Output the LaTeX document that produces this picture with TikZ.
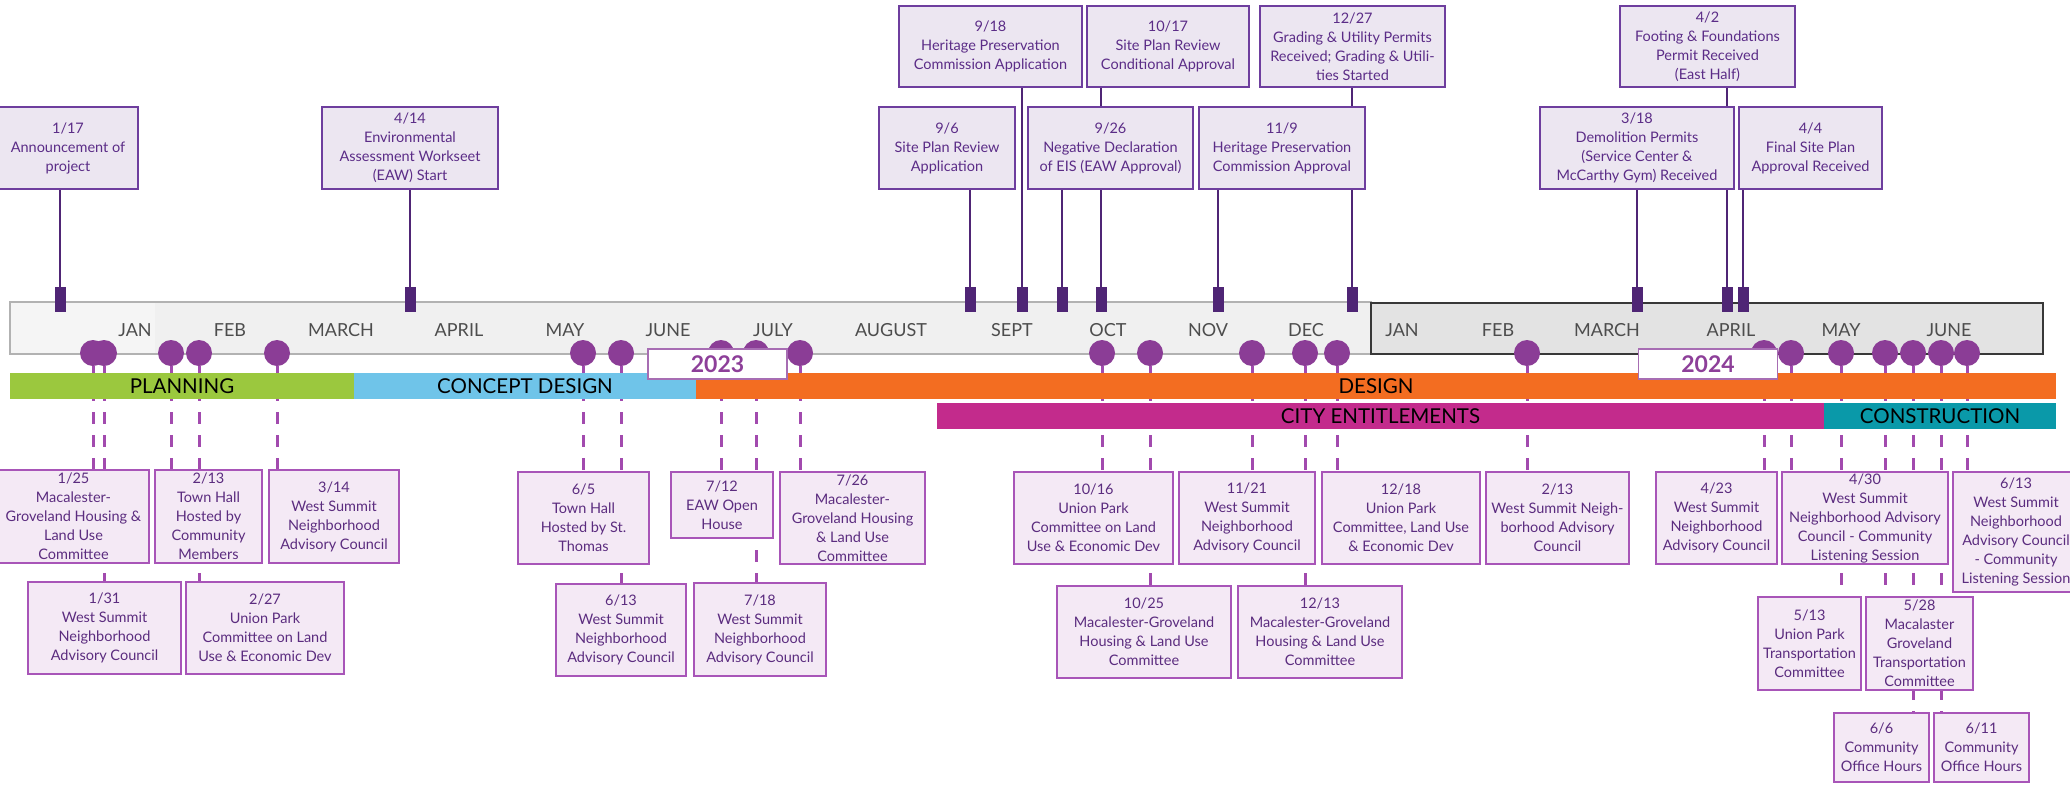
\documentclass[tikz,border=0pt]{standalone}
\usepackage{fontspec}
\setmainfont{Lato}
\usetikzlibrary{positioning}
\definecolor{topline}{HTML}{6E3E9E}
\definecolor{topfill}{HTML}{ECE6F1}
\definecolor{toptext}{HTML}{5B2C87}
\definecolor{lowline}{HTML}{A855B8}
\definecolor{lowfill}{HTML}{F4E9F5}
\definecolor{lowtext}{HTML}{5B2C7F}
\definecolor{stemcol}{HTML}{4F2575}
\definecolor{dotcol}{HTML}{8B3D96}
\definecolor{dashcol}{HTML}{A24AAE}
\definecolor{yearline}{HTML}{A76DB3}
\definecolor{yeartext}{HTML}{8D3F99}
\definecolor{monthcol}{HTML}{4D4D4D}
\definecolor{planning}{HTML}{9BC83E}
\definecolor{concept}{HTML}{6FC4E9}
\definecolor{design}{HTML}{F36D21}
\definecolor{entitle}{HTML}{C32B8C}
\definecolor{construct}{HTML}{0A99A9}
\pgfdeclarelayer{back}
\pgfsetlayers{back,main}

\begin{document}
\begin{tikzpicture}[x=1pt, y=-1pt,
  topbox/.style={draw=topline, fill=topfill, line width=1.6pt, text=toptext,
    align=center, inner sep=0pt, font=\fontsize{14.5}{19}\selectfont},
  lowbox/.style={draw=lowline, fill=lowfill, line width=1.6pt, text=lowtext,
    align=center, inner sep=0pt, font=\fontsize{14.5}{19}\selectfont},
  flag/.style={fill=stemcol, minimum width=11pt, minimum height=25pt, inner sep=0pt},
  evdot/.style={circle, fill=dotcol, minimum size=26pt, inner sep=0pt},
  stemline/.style={draw=stemcol, line width=2.6pt},
  dashlink/.style={draw=dashcol, line width=3pt, dash pattern=on 12pt off 11pt},
  monthlbl/.style={text=monthcol, inner sep=0pt, font=\fontsize{18}{20}\selectfont},
  phase/.style={minimum height=26pt, inner sep=0pt, text=black, font=\fontsize{20.5}{22}\selectfont},
  yearbox/.style={draw=yearline, fill=white, line width=1.6pt, minimum width=139pt,
    minimum height=30pt, inner sep=0pt, text=yeartext, font=\fontsize{23}{24}\bfseries}]
  \useasboundingbox (0,0) rectangle (2070,785);
  \begin{pgfonlayer}{back}
    \fill[white] (0,0) rectangle (2070,785);
    \filldraw[fill=black!6, draw=black!30, line width=1.6pt] (10,302) rectangle (1371,354);
    \fill[black!4] (11,303) rectangle (155,353);
    \filldraw[fill=black!11, draw=black!78, line width=1.6pt] (1371,303) rectangle (2043,354);
  \end{pgfonlayer}

  \node[monthlbl] (jan23) at (135,330) {JAN};
  \node[monthlbl] (feb23) at (230,330) {FEB};
  \node[monthlbl] (mar23) at (341,330) {MARCH};
  \node[monthlbl] (apr23) at (459,330) {APRIL};
  \node[monthlbl] (may23) at (565,330) {MAY};
  \node[monthlbl] (jun23) at (668,330) {JUNE};
  \node[monthlbl] (jul23) at (773,330) {JULY};
  \node[monthlbl] (aug23) at (891,330) {AUGUST};
  \node[monthlbl] (sep23) at (1012,330) {SEPT};
  \node[monthlbl] (oct23) at (1108,330) {OCT};
  \node[monthlbl] (nov23) at (1208,330) {NOV};
  \node[monthlbl] (dec23) at (1306,330) {DEC};
  \node[monthlbl] (jan24) at (1402,330) {JAN};
  \node[monthlbl] (feb24) at (1498,330) {FEB};
  \node[monthlbl] (mar24) at (1607,330) {MARCH};
  \node[monthlbl] (apr24) at (1731,330) {APRIL};
  \node[monthlbl] (may24) at (1841,330) {MAY};
  \node[monthlbl] (jun24) at (1949,330) {JUNE};

  \node[phase, fill=planning, minimum width=344pt] (plan) at (182,386) {PLANNING};
  \node[phase, fill=concept, minimum width=342pt] (concept) at (525,386) {CONCEPT DESIGN};
  \node[phase, fill=design, minimum width=1360pt] (design) at (1376,386) {DESIGN};
  \node[phase, fill=entitle, minimum width=887pt] (entitle) at (1380.5,416) {CITY ENTITLEMENTS};
  \node[phase, fill=construct, minimum width=232pt] (construct) at (1940,416) {CONSTRUCTION};

  \node[flag] (m0117) at (60,299.5) {};
  \node[flag] (m0414) at (410,299.5) {};
  \node[flag] (m0906) at (970,299.5) {};
  \node[flag] (m0918) at (1022,299.5) {};
  \node[flag] (m0926) at (1062,299.5) {};
  \node[flag] (m1017) at (1101,299.5) {};
  \node[flag] (m1109) at (1218,299.5) {};
  \node[flag] (m1227) at (1352,299.5) {};
  \node[flag] (m0318) at (1637,299.5) {};
  \node[flag] (m0402) at (1727,299.5) {};
  \node[flag] (m0404) at (1743,299.5) {};

  \node[topbox, minimum width=140pt, minimum height=82pt] (b0117) at (68,148) {1/17\\Announcement of\\project};
  \node[topbox, minimum width=176pt, minimum height=82pt] (b0414) at (410,148) {4/14\\Environmental\\Assessment Workseet\\(EAW) Start};
  \node[topbox, minimum width=136pt, minimum height=82pt] (b0906) at (947,148) {9/6\\Site Plan Review\\Application};
  \node[topbox, minimum width=183pt, minimum height=81pt] (b0918) at (990.5,46.5) {9/18\\Heritage Preservation\\Commission Application};
  \node[topbox, minimum width=165pt, minimum height=82pt] (b0926) at (1110.5,148) {9/26\\Negative Declaration\\of EIS (EAW Approval)};
  \node[topbox, minimum width=162pt, minimum height=81pt] (b1017) at (1168,46.5) {10/17\\Site Plan Review\\Conditional Approval};
  \node[topbox, minimum width=166pt, minimum height=82pt] (b1109) at (1282,148) {11/9\\Heritage Preservation\\Commission Approval};
  \node[topbox, minimum width=185pt, minimum height=81pt] (b1227) at (1352.5,46.5) {12/27\\Grading \& Utility Permits\\Received; Grading \& Utili-\\ties Started};
  \node[topbox, minimum width=194pt, minimum height=82pt] (b0318) at (1637,148) {3/18\\Demolition Permits\\(Service Center \&\\McCarthy Gym) Received};
  \node[topbox, minimum width=175pt, minimum height=81pt] (b0402) at (1707.5,46.5) {4/2\\Footing \& Foundations\\Permit Received\\(East Half)};
  \node[topbox, minimum width=143pt, minimum height=82pt] (b0404) at (1810.5,148) {4/4\\Final Site Plan\\Approval Received};

  \node[evdot] (d0125) at (93,353) {};
  \node[evdot] (d0131) at (104,353) {};
  \node[evdot] (d0213) at (171,353) {};
  \node[evdot] (d0227) at (199,353) {};
  \node[evdot] (d0314) at (277,353) {};
  \node[evdot] (d0605) at (583,353) {};
  \node[evdot] (d0613) at (621,353) {};
  \node[evdot] (d0712) at (721,353) {};
  \node[evdot] (d0718) at (756,353) {};
  \node[evdot] (d0726) at (800,353) {};
  \node[evdot] (d1016) at (1102,353) {};
  \node[evdot] (d1025) at (1150,353) {};
  \node[evdot] (d1121) at (1252,353) {};
  \node[evdot] (d1213) at (1305,353) {};
  \node[evdot] (d1218) at (1337,353) {};
  \node[evdot] (d0213b) at (1527,353) {};
  \node[evdot] (d0423) at (1764,353) {};
  \node[evdot] (d0430) at (1791,353) {};
  \node[evdot] (d0513) at (1841,353) {};
  \node[evdot] (d0528) at (1885,353) {};
  \node[evdot] (d0606) at (1913,353) {};
  \node[evdot] (d0611) at (1941,353) {};
  \node[evdot] (d0613b) at (1967,353) {};

  \node[yearbox] (y2023) at (717.5,364) {2023};
  \node[yearbox] (y2024) at (1708,364) {2024};

  \node[lowbox, minimum width=151pt, minimum height=93pt] (b0125) at (73.5,516.5) {1/25\\Macalester-\\Groveland Housing \&\\Land Use\\Committee};
  \node[lowbox, minimum width=153pt, minimum height=92pt] (b0131) at (104.5,628) {1/31\\West Summit\\Neighborhood\\Advisory Council};
  \node[lowbox, minimum width=107pt, minimum height=93pt] (b0213) at (208.5,516.5) {2/13\\Town Hall\\Hosted by\\Community\\Members};
  \node[lowbox, minimum width=158pt, minimum height=92pt] (b0227) at (265,628) {2/27\\Union Park\\Committee on Land\\Use \& Economic Dev};
  \node[lowbox, minimum width=130pt, minimum height=93pt] (b0314) at (334,516.5) {3/14\\West Summit\\Neighborhood\\Advisory Council};
  \node[lowbox, minimum width=131pt, minimum height=92pt] (b0605) at (583.5,518) {6/5\\Town Hall\\Hosted by St.\\Thomas};
  \node[lowbox, minimum width=130pt, minimum height=92pt] (b0613) at (621,630) {6/13\\West Summit\\Neighborhood\\Advisory Council};
  \node[lowbox, minimum width=102pt, minimum height=66pt] (b0712) at (722,505) {7/12\\EAW Open\\House};
  \node[lowbox, minimum width=132pt, minimum height=93pt] (b0718) at (760,629.5) {7/18\\West Summit\\Neighborhood\\Advisory Council};
  \node[lowbox, minimum width=145pt, minimum height=92pt] (b0726) at (852.5,518) {7/26\\Macalester-\\Groveland Housing\\\& Land Use\\Committee};
  \node[lowbox, minimum width=159pt, minimum height=92pt] (b1016) at (1093.5,518) {10/16\\Union Park\\Committee on Land\\Use \& Economic Dev};
  \node[lowbox, minimum width=174pt, minimum height=92pt] (b1025) at (1144,632) {10/25\\Macalester-Groveland\\Housing \& Land Use\\Committee};
  \node[lowbox, minimum width=136pt, minimum height=92pt] (b1121) at (1247,518) {11/21\\West Summit\\Neighborhood\\Advisory Council};
  \node[lowbox, minimum width=164pt, minimum height=92pt] (b1213) at (1320,632) {12/13\\Macalester-Groveland\\Housing \& Land Use\\Committee};
  \node[lowbox, minimum width=158pt, minimum height=92pt] (b1218) at (1401,518) {12/18\\Union Park\\Committee, Land Use\\\& Economic Dev};
  \node[lowbox, minimum width=143pt, minimum height=92pt] (b0213b) at (1557.5,518) {2/13\\West Summit Neigh-\\borhood Advisory\\Council};
  \node[lowbox, minimum width=121pt, minimum height=92pt] (b0423) at (1716.5,518) {4/23\\West Summit\\Neighborhood\\Advisory Council};
  \node[lowbox, minimum width=166pt, minimum height=92pt] (b0430) at (1865,518) {4/30\\West Summit\\Neighborhood Advisory\\Council - Community\\Listening Session};
  \node[lowbox, minimum width=126pt, minimum height=120pt] (b0613b) at (2016,532) {6/13\\West Summit\\Neighborhood\\Advisory Council\\- Community\\Listening Session};
  \node[lowbox, minimum width=103pt, minimum height=93pt] (b0513) at (1809.5,643.5) {5/13\\Union Park\\Transportation\\Committee};
  \node[lowbox, minimum width=107pt, minimum height=93pt] (b0528) at (1919.5,643.5) {5/28\\Macalaster\\Groveland\\Transportation\\Committee};
  \node[lowbox, minimum width=95pt, minimum height=69pt] (b0606) at (1881.5,747.5) {6/6\\Community\\Office Hours};
  \node[lowbox, minimum width=95pt, minimum height=69pt] (b0611) at (1981.5,747.5) {6/11\\Community\\Office Hours};

  \begin{pgfonlayer}{back}
    \path[stemline]
      (m0117) edge (m0117 |- b0117.south)
      (m0414) edge (m0414 |- b0414.south)
      (m0906) edge (m0906 |- b0906.south)
      (m0918) edge (m0918 |- b0918.south)
      (m0926) edge (m0926 |- b0926.south)
      (m1017) edge (m1017 |- b1017.south)
      (m1109) edge (m1109 |- b1109.south)
      (m1227) edge (m1227 |- b1227.south)
      (m0318) edge (m0318 |- b0318.south)
      (m0402) edge (m0402 |- b0402.south)
      (m0404) edge (m0404 |- b0404.south);
    \path[dashlink]
      (d0125) edge (d0125 |- b0125.north)
      (d0131) edge (d0131 |- b0131.north)
      (d0213) edge (d0213 |- b0213.north)
      (d0227) edge (d0227 |- b0227.north)
      (d0314) edge (d0314 |- b0314.north)
      (d0605) edge (d0605 |- b0605.north)
      (d0613) edge (d0613 |- b0613.north)
      (d0712) edge (d0712 |- b0712.north)
      (d0718) edge (d0718 |- b0718.north)
      (d0726) edge (d0726 |- b0726.north)
      (d1016) edge (d1016 |- b1016.north)
      (d1025) edge (d1025 |- b1025.north)
      (d1121) edge (d1121 |- b1121.north)
      (d1213) edge (d1213 |- b1213.north)
      (d1218) edge (d1218 |- b1218.north)
      (d0213b) edge (d0213b |- b0213b.north)
      (d0423) edge (d0423 |- b0423.north)
      (d0430) edge (d0430 |- b0430.north)
      (d0513) edge (d0513 |- b0513.north)
      (d0528) edge (d0528 |- b0528.north)
      (d0606) edge (d0606 |- b0606.north)
      (d0611) edge (d0611 |- b0611.north)
      (d0613b) edge (d0613b |- b0613b.north);
  \end{pgfonlayer}
\end{tikzpicture}
\end{document}
